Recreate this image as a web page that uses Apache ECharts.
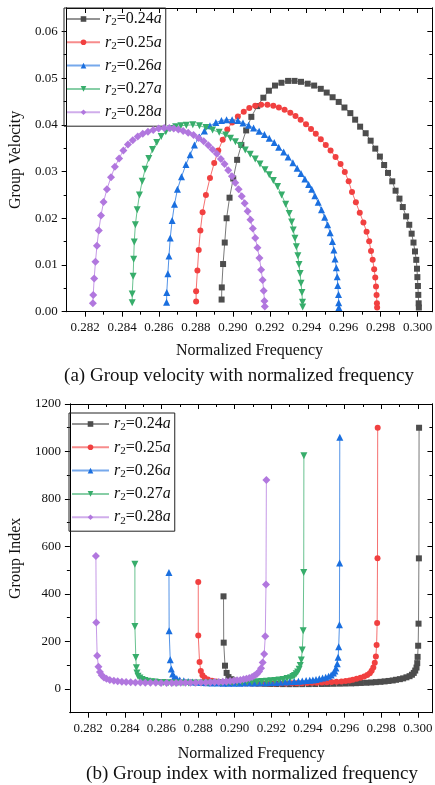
<!DOCTYPE html>
<html>
<head>
<meta charset="utf-8">
<script src="https://cdn.jsdelivr.net/npm/echarts@6/dist/echarts.min.js"></script>
<style>
  html, body { margin: 0; padding: 0; background: #fff; }
  #main { width: 435px; height: 785px; }
</style>
</head>
<body>
<div id="main"></div>
<script>
// tick positions / labels
var freqTicks = [0.282, 0.284, 0.286, 0.288, 0.290, 0.292, 0.294, 0.296, 0.298, 0.300];
var freqMinor = [0.283, 0.285, 0.287, 0.289, 0.291, 0.293, 0.295, 0.297, 0.299];
var vgTicks = [0, 0.01, 0.02, 0.03, 0.04, 0.05, 0.06];
var vgMinor = [0.005, 0.015, 0.025, 0.035, 0.045, 0.055];
var ngTicks = [0, 200, 400, 600, 800, 1000, 1200];
var ngMinor = [100, 300, 500, 700, 900, 1100];
var radii = ['0.24', '0.25', '0.26', '0.27', '0.28'];

// r2 = 0.24a
var f24 = [0.28939,0.28940,0.28947,0.28956,0.28966,0.28982,0.29002,0.29023,0.29046,0.29072,0.29100,0.29132,0.29165,0.29195,0.29228,0.29263,0.29299,0.29334,0.29369,0.29405,0.29440,0.29476,0.29508,0.29540,0.29573,0.29604,0.29636,0.29662,0.29689,0.29719,0.29746,0.29771,0.29796,0.29819,0.29840,0.29863,0.29881,0.29902,0.29920,0.29938,0.29955,0.29968,0.29978,0.29986,0.29993,0.29997,0.29999,0.30002,0.30004,0.30006,0.30007];
var vg24 = [0.0026,0.0052,0.0102,0.0148,0.0200,0.0244,0.0285,0.0325,0.0357,0.0388,0.0417,0.0440,0.0458,0.0473,0.0484,0.0490,0.0494,0.0494,0.0492,0.0488,0.0484,0.0477,0.0469,0.0459,0.0449,0.0437,0.0425,0.0411,0.0396,0.0382,0.0366,0.0349,0.0332,0.0314,0.0297,0.0279,0.0259,0.0242,0.0224,0.0204,0.0186,0.0167,0.0148,0.0129,0.0111,0.0092,0.0074,0.0055,0.0036,0.0018,0.0009];
var ng24 = [390,195,98,67.6,50,41,35.1,30.8,28,25.8,24,22.7,21.8,21.1,20.7,20.4,20.2,20.2,20.3,20.5,20.7,21,21.3,21.8,22.3,22.9,23.5,24.3,25.3,26.2,27.3,28.7,30.1,31.8,33.7,35.8,38.6,41.3,44.6,49,53.8,59.9,67.6,77.5,90.1,108.7,135,182,275,550,1100];

// r2 = 0.25a
var f25 = [0.28801,0.28801,0.28808,0.28815,0.28824,0.28836,0.28854,0.28876,0.28899,0.28921,0.28945,0.28970,0.28996,0.29027,0.29059,0.29089,0.29121,0.29153,0.29187,0.29219,0.29249,0.29280,0.29311,0.29339,0.29367,0.29396,0.29423,0.29449,0.29476,0.29503,0.29529,0.29556,0.29583,0.29606,0.29627,0.29645,0.29666,0.29687,0.29707,0.29724,0.29738,0.29748,0.29757,0.29765,0.29771,0.29775,0.29778,0.29780,0.29781];
var vg25 = [0.0022,0.0044,0.0088,0.0132,0.0174,0.0213,0.0250,0.0286,0.0318,0.0345,0.0368,0.0390,0.0405,0.0418,0.0428,0.0436,0.0441,0.0443,0.0443,0.0441,0.0437,0.0432,0.0426,0.0419,0.0411,0.0401,0.0391,0.0381,0.0369,0.0357,0.0345,0.0331,0.0316,0.0299,0.0279,0.0256,0.0234,0.0212,0.0191,0.0171,0.0151,0.0130,0.0111,0.0091,0.0073,0.0054,0.0036,0.0018,0.0009];
var ng25 = [450,225,114,75.8,57.5,46.9,40,35,31.4,29,27.2,25.6,24.7,23.9,23.4,22.9,22.7,22.6,22.6,22.7,22.9,23.1,23.5,23.9,24.3,24.9,25.6,26.2,27.1,28,29,30.2,31.6,33.4,35.8,39.1,42.7,47.2,52.4,58.5,66.2,76.9,90.1,110,137,185,278,550,1100];

// r2 = 0.26a
var f26 = [0.28641,0.28642,0.28648,0.28654,0.28661,0.28671,0.28684,0.28700,0.28722,0.28746,0.28769,0.28792,0.28819,0.28846,0.28876,0.28908,0.28938,0.28966,0.28996,0.29027,0.29055,0.29085,0.29112,0.29142,0.29171,0.29197,0.29224,0.29248,0.29275,0.29299,0.29325,0.29348,0.29369,0.29390,0.29410,0.29427,0.29444,0.29462,0.29480,0.29497,0.29513,0.29527,0.29539,0.29547,0.29553,0.29560,0.29565,0.29568,0.29572,0.29573,0.29574];
var vg26 = [0.0020,0.0041,0.0081,0.0119,0.0158,0.0195,0.0230,0.0262,0.0289,0.0315,0.0336,0.0357,0.0374,0.0387,0.0398,0.0405,0.0409,0.0411,0.0411,0.0409,0.0404,0.0399,0.0393,0.0386,0.0379,0.0371,0.0362,0.0352,0.0342,0.0331,0.0319,0.0307,0.0296,0.0284,0.0272,0.0262,0.0248,0.0234,0.0218,0.0202,0.0186,0.0169,0.0150,0.0132,0.0113,0.0094,0.0075,0.0056,0.0037,0.0019,0.0009];
var ng26 = [490,245,123,84,63.3,51.3,43.5,38.2,34.6,31.7,29.8,28,26.7,25.8,25.1,24.7,24.4,24.3,24.3,24.4,24.8,25.1,25.4,25.9,26.4,27,27.6,28.4,29.2,30.2,31.3,32.6,33.8,35.2,36.8,38.2,40.3,42.7,45.9,49.5,53.8,59.2,66.7,75.8,88.5,106,133,178,270,530,1060];

// r2 = 0.27a
var f27 = [0.28455,0.28455,0.28460,0.28463,0.28466,0.28472,0.28482,0.28494,0.28509,0.28525,0.28545,0.28565,0.28588,0.28612,0.28637,0.28663,0.28690,0.28718,0.28748,0.28783,0.28819,0.28854,0.28890,0.28926,0.28961,0.28987,0.29014,0.29041,0.29067,0.29094,0.29121,0.29147,0.29174,0.29197,0.29219,0.29242,0.29264,0.29286,0.29305,0.29318,0.29327,0.29336,0.29344,0.29352,0.29358,0.29364,0.29369,0.29374,0.29377,0.29378];
var vg27 = [0.0019,0.0038,0.0076,0.0112,0.0149,0.0186,0.0218,0.0250,0.0279,0.0305,0.0328,0.0347,0.0362,0.0375,0.0385,0.0392,0.0396,0.0398,0.0399,0.0400,0.0398,0.0394,0.0389,0.0384,0.0378,0.0371,0.0364,0.0355,0.0346,0.0337,0.0327,0.0316,0.0304,0.0293,0.0281,0.0268,0.0250,0.0230,0.0210,0.0192,0.0175,0.0157,0.0139,0.0120,0.0101,0.0082,0.0061,0.0041,0.0020,0.0010];
var ng27 = [525,263,132,89.3,67.1,53.8,45.9,40,35.8,32.8,30.5,28.8,27.6,26.7,26,25.5,25.3,25.1,25.1,25,25.1,25.4,25.7,26,26.5,27,27.5,28.2,28.9,29.7,30.6,31.6,32.9,34.1,35.6,37.3,40,43.5,47.6,52.1,57.1,63.7,71.9,83.3,99,122,164,245,490,982];

// r2 = 0.28a
var f28 = [0.28242,0.28244,0.28249,0.28256,0.28264,0.28274,0.28286,0.28300,0.28318,0.28340,0.28361,0.28384,0.28407,0.28432,0.28458,0.28485,0.28512,0.28540,0.28569,0.28598,0.28628,0.28656,0.28680,0.28705,0.28731,0.28758,0.28787,0.28815,0.28842,0.28867,0.28890,0.28913,0.28935,0.28955,0.28975,0.28995,0.29013,0.29031,0.29048,0.29064,0.29080,0.29095,0.29108,0.29121,0.29133,0.29144,0.29153,0.29161,0.29167,0.29171,0.29173];
var vg28 = [0.0018,0.0036,0.0071,0.0107,0.0141,0.0174,0.0206,0.0235,0.0262,0.0288,0.0310,0.0328,0.0345,0.0358,0.0367,0.0375,0.0381,0.0385,0.0389,0.0392,0.0393,0.0393,0.0392,0.0390,0.0387,0.0383,0.0378,0.0372,0.0365,0.0356,0.0347,0.0338,0.0327,0.0316,0.0303,0.0290,0.0276,0.0262,0.0247,0.0232,0.0215,0.0197,0.0178,0.0158,0.0137,0.0115,0.0090,0.0068,0.0045,0.0023,0.0011];
var ng28 = [560,280,140,93.5,70.9,57.5,48.5,42.6,38.2,34.7,32.3,30.5,29,27.9,27.2,26.7,26.2,26,25.7,25.5,25.4,25.4,25.5,25.6,25.8,26.1,26.5,26.9,27.4,28.1,28.8,29.6,30.6,31.6,33,34.5,36.2,38.2,40.5,43.1,46.5,50.8,56.2,63.3,73,87,111,147,222,440,880];

var freqs = [f24, f25, f26, f27, f28];
var velocities = [vg24, vg25, vg26, vg27, vg28];
var indices = [ng24, ng25, ng26, ng27, ng28];

var colors = ['#4d4d4d', '#F14040', '#1A6FDF', '#37AD6B', '#B177DE'];
var symbols = ['rect', 'circle', 'triangle', 'triangle', 'diamond'];
var rotates = [0, 0, 0, 180, 0];
var sizes = [6, 6, 7, 7, 8];
var serif = 'Liberation Serif';

var chart = echarts.init(document.getElementById('main'));

function pairs(xs, ys) {
  return xs.map(function (x, i) { return [x, ys[i]]; });
}

// plain frame axis: only line + ticks
function frameAxis(gridIndex, position, range, ticks, len, inside) {
  return {
    type: 'value',
    gridIndex: gridIndex,
    position: position,
    min: range[0],
    max: range[1],
    axisLine: { show: true, onZero: false, lineStyle: { color: '#000', width: 1 } },
    axisTick: { show: true, inside: inside, length: len, customValues: ticks, lineStyle: { color: '#000', width: 1 } },
    axisLabel: { show: false },
    splitLine: { show: false }
  };
}

function labelAxis(gridIndex, position, range, ticks, fmt, name, nameGap) {
  var a = frameAxis(gridIndex, position, range, ticks, 5, false);
  a.axisLabel = {
    show: true,
    customValues: ticks,
    formatter: fmt,
    fontFamily: serif,
    fontSize: 13,
    color: '#111',
    margin: 9
  };
  a.name = name;
  a.nameLocation = 'middle';
  a.nameGap = nameGap;
  a.nameTextStyle = { fontFamily: serif, fontSize: 16, color: '#111' };
  return a;
}

var xr = [0.281, 0.3008];
var fmtF = function (v) { return v.toFixed(3); };

var xAxes = [
  labelAxis(0, 'bottom', xr, freqTicks, fmtF, 'Normalized Frequency', 31),
  frameAxis(0, 'bottom', xr, freqMinor, 3, false),
  frameAxis(0, 'top', xr, freqTicks, 5, true),
  frameAxis(0, 'top', xr, freqMinor, 3, true),
  labelAxis(1, 'bottom', xr, freqTicks, fmtF, 'Normalized Frequency', 33),
  frameAxis(1, 'bottom', xr, freqMinor, 3, false),
  frameAxis(1, 'top', xr, freqTicks, 5, true),
  frameAxis(1, 'top', xr, freqMinor, 3, true)
];

var vr = [0, 0.065];
var nr = [-100, 1200];
var yAxes = [
  labelAxis(0, 'left', vr, vgTicks, function (v) { return v.toFixed(2); }, 'Group Velocity', 34),
  frameAxis(0, 'left', vr, vgMinor, 3, false),
  frameAxis(0, 'right', vr, vgTicks, 5, true),
  frameAxis(0, 'right', vr, vgMinor, 3, true),
  labelAxis(1, 'left', nr, ngTicks, function (v) { return String(v); }, 'Group Index', 37),
  frameAxis(1, 'left', nr, ngMinor, 3, false),
  frameAxis(1, 'right', nr, ngTicks, 5, true),
  frameAxis(1, 'right', nr, ngMinor, 3, true)
];

var names = radii.map(function (r) { return 'r2=' + r + 'a'; });

var series = [];
[0, 1].forEach(function (g) {
  names.forEach(function (name, k) {
    series.push({
      name: name,
      type: 'line',
      xAxisIndex: g * 4,
      yAxisIndex: g * 4,
      data: pairs(freqs[k], g === 0 ? velocities[k] : indices[k]),
      symbol: symbols[k],
      symbolRotate: rotates[k],
      symbolSize: sizes[k],
      showAllSymbol: true,
      itemStyle: { color: colors[k] },
      lineStyle: { color: colors[k], width: 1, opacity: 0.75 },
      z: 2 + k
    });
  });
});

function legendBox(left, top, lineLen) {
  return {
    orient: 'vertical',
    left: left,
    top: top,
    padding: [3, 4, 5, 2],
    itemGap: 6.3,
    itemWidth: lineLen,
    itemHeight: 7,
    borderColor: '#222',
    borderWidth: 1,
    data: names,
    lineStyle: { width: 2, opacity: 0.6 },
    formatter: function (n) {
      return '{i|r}{s|2}{t|=' + n.slice(3, -1) + '}{i|a}';
    },
    textStyle: {
      fontFamily: serif,
      color: '#111',
      rich: {
        i: { fontFamily: serif, fontStyle: 'italic', fontSize: 16, lineHeight: 18, color: '#111' },
        t: { fontFamily: serif, fontSize: 16, lineHeight: 18, color: '#111' },
        s: { fontFamily: serif, fontSize: 11, lineHeight: 9, verticalAlign: 'bottom', color: '#111' }
      }
    }
  };
}

var option = {
  animation: false,
  backgroundColor: '#fff',
  title: [
    {
      text: '(a) Group velocity with normalized frequency',
      left: 239, top: 367, textAlign: 'center', padding: 0,
      textStyle: { fontFamily: serif, fontSize: 19, fontWeight: 'normal', color: '#111' }
    },
    {
      text: '(b) Group index with normalized frequency',
      left: 252, top: 765, textAlign: 'center', padding: 0,
      textStyle: { fontFamily: serif, fontSize: 19, fontWeight: 'normal', color: '#111' }
    }
  ],
  legend: [legendBox(64, 8, 33), legendBox(69, 413, 37)],
  grid: [
    { left: 62, top: 8, width: 371.5, height: 303.7 },
    { left: 59.5, top: 404, width: 378.5, height: 308.7 }
  ],
  xAxis: xAxes,
  yAxis: yAxes,
  series: series
};

chart.setOption(option);
</script>
</body>
</html>
